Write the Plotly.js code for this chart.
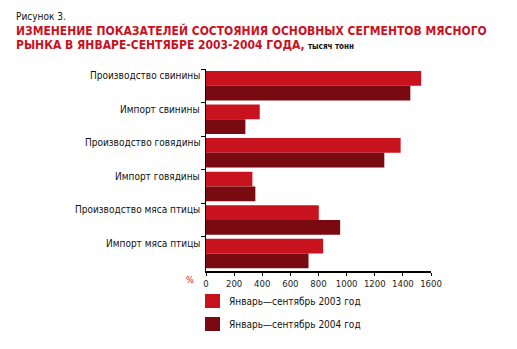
<!DOCTYPE html>
<html>
<head>
<meta charset="utf-8">
<script src="https://cdn.plot.ly/plotly-3.0.1.min.js"></script>
<style>html,body{margin:0;padding:0;background:#fff;}#chart{width:517px;height:349px;}</style>
</head>
<body>
<div id="chart"></div>
<script>
const categories = ["Производство свинины","Импорт свинины","Производство говядины","Импорт говядины","Производство мяса птицы","Импорт мяса птицы"];
const seriesNames = ["Январь—сентябрь 2003 год","Январь—сентябрь 2004 год"];
const values2003 = [1530, 382, 1384, 330, 802, 833];
const values2004 = [1453, 280, 1268, 351, 954, 729];
const colors = ["#C8121E","#7A0A12"];
const xTicks = [0,200,400,600,800,1000,1200,1400,1600];

const W = 517, H = 349;
const L = 206, R = 86, T = 69, B = 78;
const pw = W - L - R, ph = H - T - B;
const px = v => (v - L) / pw;
const py = v => 1 - (v - T) / ph;
const FONT = '"Liberation Sans Narrow", "DejaVu Sans Condensed", Arial, sans-serif';

const data = [values2003, values2004].map((vals, i) => ({
  type: 'bar', orientation: 'h', y: categories, x: vals, name: seriesNames[i],
  marker: {color: colors[i]}, hoverinfo: 'none', showlegend: false
}));

const annotations = [];
categories.forEach(c => annotations.push({
  xref: 'paper', yref: 'y', x: px(202), y: c, yshift: 10, xanchor: 'right', yanchor: 'middle',
  text: c, showarrow: false, font: {family: FONT, size: 10, color: '#111'}
}));
annotations.push({xref:'paper', yref:'paper', x: px(14), y: py(16), xanchor:'left', yanchor:'middle', showarrow:false,
  text: 'Рисунок 3.', font:{family: FONT, size: 10, color:'#111'}});
annotations.push({xref:'paper', yref:'paper', x: px(14), y: py(30), xanchor:'left', yanchor:'middle', showarrow:false,
  text: '<b>ИЗМЕНЕНИЕ ПОКАЗАТЕЛЕЙ СОСТОЯНИЯ ОСНОВНЫХ СЕГМЕНТОВ МЯСНОГО</b>', font:{family: FONT, size: 12, color:'#C8121E'}});
annotations.push({xref:'paper', yref:'paper', x: px(14), y: py(45.5), xanchor:'left', yanchor:'middle', showarrow:false,
  text: '<b>РЫНКА В ЯНВАРЕ-СЕНТЯБРЕ 2003-2004 ГОДА,</b> <span style="font-size:8px;color:#111"><b>тысяч тонн</b></span>', font:{family: FONT, size: 12, color:'#C8121E'}});
annotations.push({xref:'paper', yref:'paper', x: px(190), y: py(280), xanchor:'center', yanchor:'middle', showarrow:false,
  text: '%', font:{family: FONT, size: 9, color:'#C8121E'}});

const shapes = [];
const legendY = [301, 324];
seriesNames.forEach((n, i) => {
  shapes.push({type:'rect', xref:'paper', yref:'paper', x0: px(205), x1: px(220), y0: py(legendY[i]-7), y1: py(legendY[i]+7),
    fillcolor: colors[i], line:{width:0}});
  annotations.push({xref:'paper', yref:'paper', x: px(227), y: py(legendY[i]), xanchor:'left', yanchor:'middle', showarrow:false,
    text: n, font:{family: FONT, size: 10, color:'#111'}});
});

const layout = {
  width: W, height: H, margin: {l: L, r: R, t: T, b: B, pad: 0},
  paper_bgcolor: '#fff', plot_bgcolor: '#fff',
  barmode: 'group', bargap: 0.12, bargroupgap: 0,
  showlegend: false,
  font: {family: FONT},
  xaxis: {range: [0, 1600], tickvals: xTicks, ticktext: xTicks.map(String), ticks: 'outside', ticklen: 3, tickcolor: '#000',
    showline: true, linecolor: '#000', linewidth: 1.5, showgrid: false, zeroline: false,
    tickfont: {family: FONT, size: 9.5, color: '#222'}},
  yaxis: {type: 'category', categoryorder: 'array', categoryarray: categories, autorange: 'reversed',
    tickson: 'boundaries', ticks: 'outside', ticklen: 4, tickcolor: '#000', showticklabels: false,
    showline: true, linecolor: '#000', linewidth: 1.5, showgrid: false, zeroline: false},
  annotations: annotations, shapes: shapes
};

Plotly.newPlot('chart', data, layout, {displayModeBar: false, staticPlot: true});
</script>
</body>
</html>
